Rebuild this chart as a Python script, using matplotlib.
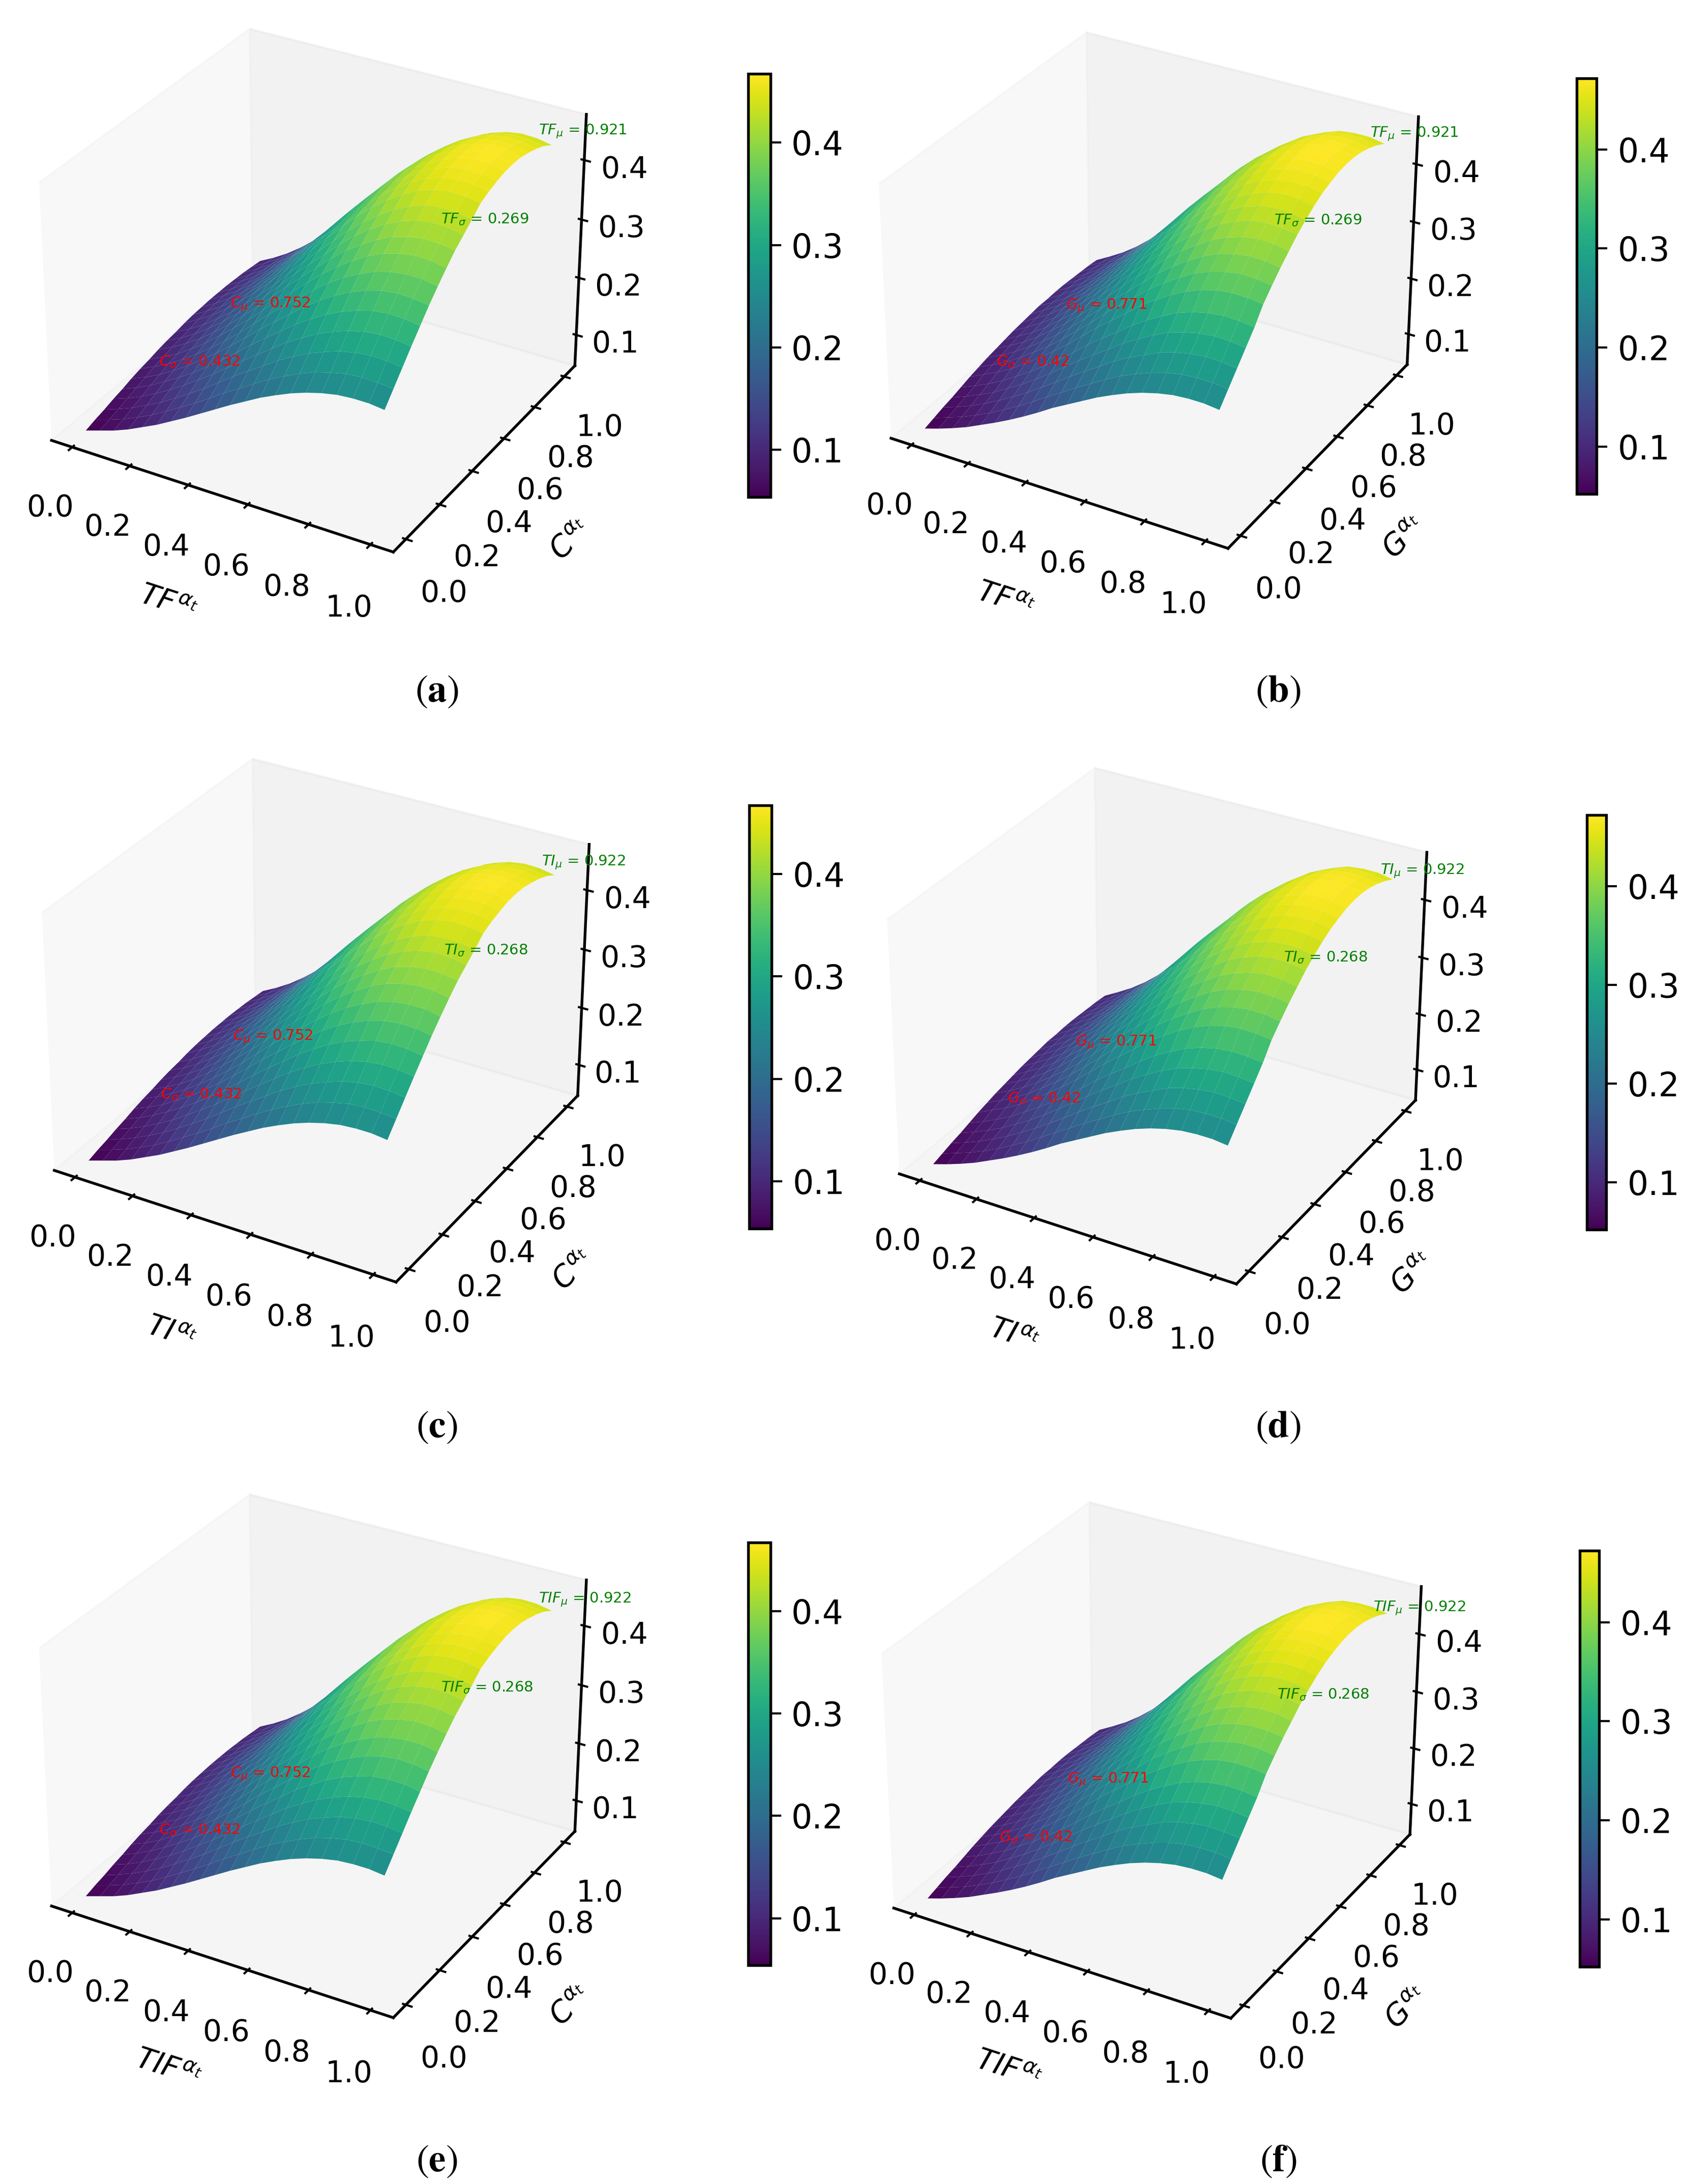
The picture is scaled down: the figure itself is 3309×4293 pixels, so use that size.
import numpy as np
import matplotlib
matplotlib.use("Agg")
from matplotlib import pyplot as plt

# grid of both surfaces, rows follow the second axis
grid_x = [0.0, 0.05, 0.1, 0.15, 0.2, 0.25, 0.3, 0.35, 0.4, 0.45, 0.5, 0.55, 0.6, 0.65, 0.7, 0.75, 0.8, 0.85, 0.9, 0.95, 1.0]
grid_y = [0.0, 0.05, 0.1, 0.15, 0.2, 0.25, 0.3, 0.35, 0.4, 0.45, 0.5, 0.55, 0.6, 0.65, 0.7, 0.75, 0.8, 0.85, 0.9, 0.95, 1.0]

# surface against C (panels a, c, e)
z_c = [
    [.054, .062, .070, .080, .092, .104, .118, .132, .147, .162, .177, .191, .205, .217, .228, .237, .244, .249, .251, .251, .248],
    [.059, .067, .076, .087, .099, .113, .128, .143, .159, .176, .191, .207, .222, .235, .247, .257, .264, .270, .272, .271, .269],
    [.063, .072, .082, .094, .107, .122, .138, .154, .172, .190, .207, .223, .240, .254, .267, .277, .286, .291, .294, .293, .290],
    [.068, .077, .088, .101, .115, .131, .148, .165, .184, .203, .221, .239, .257, .272, .286, .297, .306, .312, .315, .314, .311],
    [.072, .082, .094, .108, .123, .139, .157, .176, .196, .217, .236, .255, .274, .290, .305, .317, .326, .333, .336, .335, .331],
    [.077, .087, .099, .114, .130, .148, .167, .187, .208, .230, .250, .270, .290, .308, .323, .336, .346, .353, .356, .355, .351],
    [.081, .092, .105, .120, .137, .155, .175, .196, .219, .242, .263, .284, .305, .324, .340, .353, .364, .371, .374, .374, .369],
    [.084, .096, .109, .125, .143, .163, .184, .205, .229, .253, .275, .297, .319, .338, .355, .370, .381, .388, .392, .391, .386],
    [.088, .100, .114, .130, .149, .169, .191, .214, .238, .263, .286, .309, .332, .352, .369, .384, .396, .403, .407, .406, .402],
    [.091, .103, .118, .135, .154, .175, .197, .221, .246, .272, .296, .319, .343, .364, .382, .397, .409, .417, .421, .420, .415],
    [.093, .106, .121, .139, .158, .180, .203, .227, .254, .280, .305, .329, .353, .375, .393, .409, .421, .430, .433, .432, .428],
    [.096, .110, .125, .143, .164, .186, .210, .235, .262, .289, .315, .340, .365, .387, .406, .422, .435, .443, .447, .446, .442],
    [.098, .112, .127, .146, .166, .189, .213, .239, .266, .294, .320, .346, .371, .394, .413, .430, .443, .451, .455, .454, .449],
    [.099, .113, .129, .148, .168, .191, .216, .242, .269, .297, .324, .349, .375, .398, .418, .435, .447, .456, .460, .459, .454],
    [.100, .114, .130, .149, .170, .193, .218, .244, .271, .299, .326, .352, .378, .401, .421, .438, .451, .460, .465, .464, .458],
    [.100, .114, .130, .149, .170, .193, .218, .244, .272, .300, .327, .353, .379, .402, .422, .439, .452, .461, .467, .465, .459],
    [.100, .114, .130, .149, .170, .193, .218, .244, .271, .299, .326, .352, .378, .401, .421, .438, .451, .460, .465, .464, .458],
    [.099, .113, .129, .148, .168, .191, .216, .242, .269, .297, .324, .349, .375, .398, .418, .435, .447, .456, .460, .459, .454],
    [.098, .112, .127, .146, .166, .189, .213, .239, .266, .294, .320, .346, .371, .394, .413, .430, .443, .451, .455, .454, .449],
    [.096, .110, .125, .143, .164, .186, .210, .235, .262, .289, .315, .340, .365, .387, .406, .422, .435, .443, .447, .446, .442],
    [.094, .107, .122, .140, .160, .182, .205, .230, .256, .283, .308, .333, .357, .379, .398, .414, .426, .434, .438, .437, .432],
]

# surface against G (panels b, d, f)
z_g = [
    [.053, .061, .070, .080, .092, .104, .117, .131, .146, .162, .176, .190, .204, .216, .227, .236, .243, .248, .250, .250, .247],
    [.058, .067, .076, .087, .099, .113, .127, .143, .159, .175, .191, .206, .221, .235, .246, .256, .264, .269, .271, .271, .268],
    [.063, .072, .082, .094, .107, .122, .137, .154, .171, .189, .206, .222, .239, .253, .265, .277, .285, .290, .293, .292, .289],
    [.067, .077, .088, .100, .115, .130, .147, .165, .184, .203, .221, .238, .256, .271, .285, .297, .305, .311, .314, .313, .310],
    [.072, .082, .094, .107, .123, .139, .157, .176, .196, .217, .236, .254, .273, .290, .304, .317, .326, .332, .335, .334, .331],
    [.077, .089, .101, .115, .132, .150, .169, .189, .211, .233, .253, .273, .294, .311, .327, .340, .350, .357, .360, .359, .356],
    [.081, .093, .106, .121, .139, .157, .177, .199, .221, .245, .266, .287, .309, .327, .343, .358, .368, .375, .379, .378, .374],
    [.085, .097, .111, .127, .145, .164, .185, .208, .231, .256, .278, .300, .323, .342, .359, .374, .385, .392, .396, .395, .391],
    [.088, .101, .115, .132, .151, .171, .193, .216, .241, .266, .290, .312, .336, .356, .373, .389, .400, .408, .412, .411, .406],
    [.091, .105, .119, .136, .156, .177, .200, .224, .249, .275, .300, .323, .348, .368, .386, .403, .414, .423, .426, .425, .421],
    [.094, .108, .123, .140, .161, .182, .206, .231, .257, .284, .309, .333, .358, .379, .398, .415, .427, .435, .439, .438, .433],
    [.096, .111, .126, .144, .165, .187, .211, .236, .263, .291, .316, .341, .367, .389, .408, .425, .437, .446, .450, .449, .444],
    [.098, .113, .128, .147, .168, .191, .215, .241, .268, .296, .323, .348, .374, .397, .416, .434, .446, .455, .459, .458, .453],
    [.100, .114, .130, .149, .171, .193, .218, .245, .272, .301, .327, .353, .380, .402, .422, .440, .453, .461, .465, .464, .459],
    [.100, .115, .131, .150, .172, .195, .220, .247, .275, .303, .330, .356, .383, .406, .426, .444, .457, .466, .470, .469, .464],
    [.101, .116, .132, .151, .173, .196, .221, .248, .276, .305, .332, .358, .385, .408, .428, .446, .459, .468, .472, .471, .466],
    [.101, .116, .132, .151, .173, .196, .221, .248, .276, .305, .332, .358, .385, .408, .428, .446, .459, .468, .472, .471, .466],
    [.100, .115, .131, .150, .172, .195, .220, .247, .274, .303, .330, .356, .383, .406, .425, .443, .456, .465, .469, .468, .463],
    [.099, .114, .130, .148, .170, .193, .217, .244, .271, .300, .326, .352, .378, .401, .421, .438, .451, .460, .464, .463, .458],
    [.098, .112, .128, .146, .167, .190, .214, .240, .267, .295, .321, .347, .373, .395, .414, .432, .444, .453, .457, .456, .451],
    [.096, .110, .125, .143, .164, .186, .210, .235, .262, .289, .315, .339, .365, .387, .406, .423, .435, .444, .447, .447, .442],
]

panel_names = ["a", "b", "c", "d", "e", "f"]
x_names = ["TF", "TF", "TI", "TI", "TIF", "TIF"]
y_names = ["C", "G", "C", "G", "C", "G"]
x_mu = ["0.921", "0.921", "0.922", "0.922", "0.922", "0.922"]
x_sigma = ["0.269", "0.269", "0.268", "0.268", "0.268", "0.268"]
y_mu = ["0.752", "0.771", "0.752", "0.771", "0.752", "0.771"]
y_sigma = ["0.432", "0.42", "0.432", "0.42", "0.432", "0.42"]
# colour range of the colour bars
c_range = (0.054, 0.467)
g_range = (0.052, 0.472)

# layout, read in a 1206 px wide view of the page
PX = 3309 / 1206
W, H = 3309, 4293
ax_sizes = [436, 430, 436, 430, 436, 430]
box_centre = [(222, 205), (821, 205), (224, 728), (827, 732), (222, 1255), (823, 1258)]
cbar_box = [(536, 53, 552, 356), (1130, 56, 1144, 354), (537, 577, 553, 880),
            (1137, 584, 1151, 881), (536, 1105, 552, 1408), (1132, 1111, 1146, 1409)]
mu_x_pos = [(386, 94), (982, 96), (388, 618), (989, 624), (386, 1146), (984, 1152)]
sigma_x_pos = [(316, 157), (913, 158), (318, 681), (920, 686), (316, 1209), (915, 1214)]
mu_y_pos = [(165, 218), (764, 219), (167, 743), (771, 747), (165, 1271), (765, 1275)]
sigma_y_pos = [(114, 259), (714, 259), (115, 784), (722, 787), (114, 1311), (716, 1316)]
caption_pos = [(313, 495), (916, 495), (313, 1022), (916, 1022), (313, 1548), (916, 1548)]

plt.rcParams['font.size'] = 14
plt.rcParams['axes.linewidth'] = 1.3

fig = plt.figure(figsize=(W / 300, H / 300), dpi=300)


def page_text(pos, s, **kw):
    fig.text(pos[0] * PX / W, 1 - pos[1] * PX / H, s, **kw)


X, Y = np.meshgrid(grid_x, grid_y)
for i in range(6):
    cx, cy = box_centre[i]
    w = ax_sizes[i] * PX / W
    h = ax_sizes[i] * PX / H
    ax = fig.add_axes([cx * PX / W - w / 2, 1 - cy * PX / H - h / 2, w, h], projection='3d')
    ax.set_facecolor('none')
    Z = np.array(z_c if y_names[i] == "C" else z_g)
    vmin, vmax = c_range if y_names[i] == "C" else g_range
    surf = ax.plot_surface(X, Y, Z, cmap='viridis', vmin=vmin, vmax=vmax)
    ax.grid(False)
    ax.set_xticks([0.0, 0.2, 0.4, 0.6, 0.8, 1.0])
    ax.set_yticks([0.0, 0.2, 0.4, 0.6, 0.8, 1.0])
    ax.set_zticks([0.1, 0.2, 0.3, 0.4])
    ax.tick_params(axis='x', pad=8)
    ax.tick_params(axis='y', pad=8)
    ax.set_xlabel(r"$" + x_names[i] + r"^{\alpha_t}$", labelpad=15)
    ax.set_ylabel(r"$" + y_names[i] + r"^{\alpha_t}$", labelpad=15)
    for axis in (ax.xaxis, ax.yaxis, ax.zaxis):
        axis._axinfo['axisline']['linewidth'] = 1.3
        axis._axinfo['tick']['linewidth'] = {True: 1.0, False: 1.0}

    x0, y0, x1, y1 = cbar_box[i]
    cax = fig.add_axes([x0 * PX / W, 1 - y1 * PX / H, (x1 - x0) * PX / W, (y1 - y0) * PX / H])
    cb = fig.colorbar(surf, cax=cax)
    cb.set_ticks([0.1, 0.2, 0.3, 0.4])
    cb.ax.tick_params(width=1.0, length=5, pad=5, labelsize=15.5)

    page_text(mu_x_pos[i], r"$" + x_names[i] + r"_{\mu}$ = " + x_mu[i], color='green', fontsize=7, va='center')
    page_text(sigma_x_pos[i], r"$" + x_names[i] + r"_{\sigma}$ = " + x_sigma[i], color='green', fontsize=7, va='center')
    page_text(mu_y_pos[i], r"$" + y_names[i] + r"_{\mu}$ = " + y_mu[i], color='red', fontsize=7, va='center')
    page_text(sigma_y_pos[i], r"$" + y_names[i] + r"_{\sigma}$ = " + y_sigma[i], color='red', fontsize=7, va='center')
    page_text(caption_pos[i], r"$(\mathbf{" + panel_names[i] + r"})$", fontsize=18,
              math_fontfamily='stix', ha='center', va='center')

fig.savefig("out.png", dpi=300)
